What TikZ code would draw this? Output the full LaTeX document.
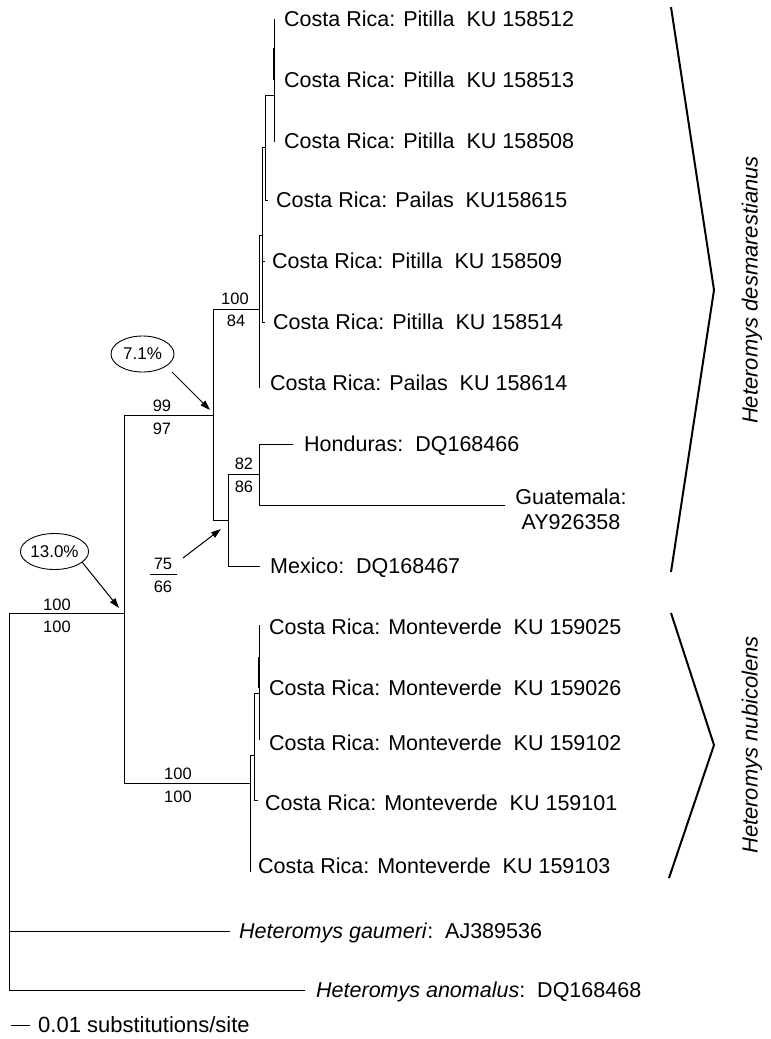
\documentclass[tikz,border=0pt]{standalone}
\usepackage{fontspec}
\setmainfont{Liberation Sans}
\usetikzlibrary{shapes.geometric,arrows.meta}
\begin{document}
\begin{tikzpicture}[x=1pt,y=-1pt,
  br/.style={line width=1pt},
  thickbr/.style={line width=2pt},
  brk/.style={line width=2pt},
  leaf/.style={anchor=west,inner sep=0pt,text height=15.5pt,text depth=0pt,font=\fontsize{21.5}{24}\selectfont},
  cleaf/.style={anchor=center,inner sep=0pt,text height=15.5pt,text depth=0pt,font=\fontsize{21.5}{24}\selectfont},
  sup/.style={inner sep=0pt,text height=12pt,text depth=0pt,font=\fontsize{16.5}{18}\selectfont},
  ell/.style={draw,ellipse,line width=0.9pt,minimum width=63pt,minimum height=36pt,inner sep=0pt,font=\fontsize{17}{19}\selectfont},
  arr/.style={line width=1pt,-{Triangle[length=10pt,width=6.5pt]}},
  grp/.style={rotate=90,inner sep=0pt,font=\fontsize{22}{24}\selectfont\itshape}]
\useasboundingbox (0,0) rectangle (771,1039);

% ---- tree branches ----
\draw[br] (124,613) -- (9,613) -- (9,990) -- (305,990);
\draw[br] (9,931) -- (230,931);
\draw[br] (213,415) -- (124,415) -- (124,783) -- (250,783);
\draw[br] (259,309) -- (213,309) -- (213,520) -- (228,520);
\draw[br] (259,474) -- (228,474) -- (228,566) -- (260,566);
\draw[br] (293,444) -- (259,444) -- (259,505) -- (505,505);
% top cluster
\draw[br] (262,235) -- (259,235) -- (259,388);
\draw[br] (265,147) -- (262,147) -- (262,322) -- (265,322);
\draw[br] (262,261) -- (265,261);
\draw[br] (274,95) -- (265,95) -- (265,200) -- (268,200);
\draw[br] (274,19) -- (274,142);
\draw[thickbr] (274,48) -- (274,80);
% Monteverde cluster
\draw[br] (254,755) -- (250,755) -- (250,872);
\draw[br] (259,693) -- (254,693) -- (254,800) -- (258,800);
\draw[br] (259,625) -- (259,740);
\draw[thickbr] (259,657) -- (259,688);

% ---- leaf labels ----
\node[leaf] (l1) at (284,19) {Costa Rica: Pitilla\ \ KU 158512};
\node[leaf] (l2) at (284,80) {Costa Rica: Pitilla\ \ KU 158513};
\node[leaf] (l3) at (284,141) {Costa Rica: Pitilla\ \ KU 158508};
\node[leaf] (l4) at (276,200) {Costa Rica: Pailas\ \ KU158615};
\node[leaf] (l5) at (272,261) {Costa Rica: Pitilla\ \ KU 158509};
\node[leaf] (l6) at (273,322) {Costa Rica: Pitilla\ \ KU 158514};
\node[leaf] (l7) at (270,383) {Costa Rica: Pailas\ \ KU 158614};
\node[leaf] (hon) at (304,444) {Honduras:\ \ DQ168466};
\node[cleaf] (gua1) at (571,497) {Guatemala:};
\node[cleaf] (gua2) at (571,522) {AY926358};
\node[leaf] (mex) at (270,566) {Mexico:\ \ DQ168467};
\node[leaf] (m1) at (269,627) {Costa Rica: Monteverde\ \ KU 159025};
\node[leaf] (m2) at (269,688) {Costa Rica: Monteverde\ \ KU 159026};
\node[leaf] (m3) at (269,743) {Costa Rica: Monteverde\ \ KU 159102};
\node[leaf] (m4) at (265,803) {Costa Rica: Monteverde\ \ KU 159101};
\node[leaf] (m5) at (258,866) {Costa Rica: Monteverde\ \ KU 159103};
\node[leaf] (gau) at (239,931) {\textit{Heteromys gaumeri}:\ \ AJ389536};
\node[leaf] (ano) at (316,990) {\textit{Heteromys anomalus}:\ \ DQ168468};

% ---- support values ----
\node[sup] (s1a) at (57,604) {100};
\node[sup] (s1b) at (57,626) {100};
\node[sup] (s2a) at (162,405) {99};
\node[sup] (s2b) at (162,428) {97};
\node[sup] (s3a) at (235,298) {100};
\node[sup] (s3b) at (236,320) {84};
\node[sup] (s4a) at (244,463) {82};
\node[sup] (s4b) at (244,486) {86};
\node[sup] (s5a) at (163,563) {75};
\node[sup] (s5b) at (163,586) {66};
\coordinate (fl) at (150,574);
\coordinate (fr) at (177,574);
\draw[line width=0.9pt] (fl) -- (fr);
\node[sup] (s6a) at (178,773) {100};
\node[sup] (s6b) at (178,796) {100};

% ---- divergence annotations ----
\node[ell] (e71) at (142.5,354) {7.1\%};
\node[ell] (e13) at (54.5,551.5) {13.0\%};
\coordinate (a71s) at (172,372);
\coordinate (a71t) at (210,410);
\coordinate (a13s) at (82,562);
\coordinate (a13t) at (119,608);
\coordinate (a75s) at (183,558);
\coordinate (a75t) at (221,529);
\draw[arr] (a71s) -- (a71t);
\draw[arr] (a13s) -- (a13t);
\draw[arr] (a75s) -- (a75t);

% ---- species brackets ----
\coordinate (b1t) at (671,7);
\coordinate (b1m) at (714,290);
\coordinate (b1b) at (671,572);
\coordinate (b2t) at (671,613);
\coordinate (b2m) at (714,745);
\coordinate (b2b) at (669,878);
\draw[brk] (b1t) -- (b1m) -- (b1b);
\draw[brk] (b2t) -- (b2m) -- (b2b);
\node[grp] (gdes) at (752,290) {Heteromys desmarestianus};
\node[grp] (gnub) at (752,745) {Heteromys nubicolens};

% ---- scale bar ----
\coordinate (sb1) at (11,1025);
\coordinate (sb2) at (30,1025);
\draw[br] (sb1) -- (sb2);
\node[leaf,font=\fontsize{22}{24}\selectfont] (sbt) at (38,1025) {0.01 substitutions/site};
\end{tikzpicture}
\end{document}
